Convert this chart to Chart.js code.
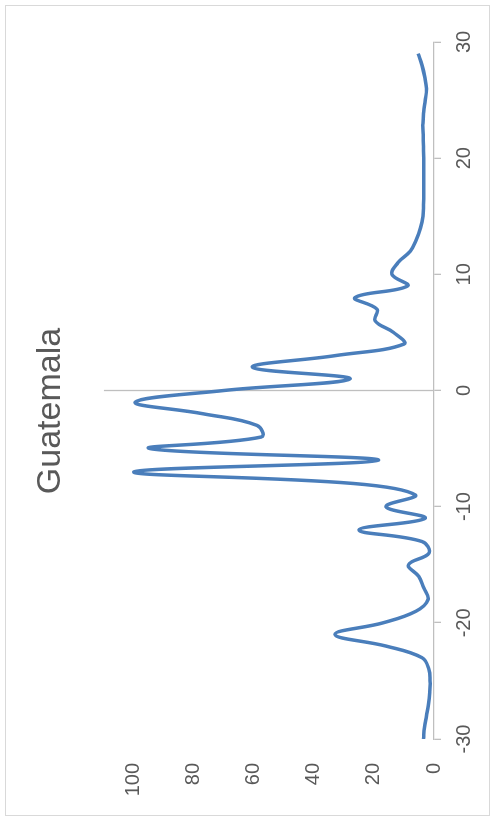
<!DOCTYPE html>
<html>
<head>
<meta charset="utf-8">
<script src="https://cdn.jsdelivr.net/npm/chart.js@4"></script>
<style>
  body { margin: 0; background: #fff; overflow: hidden; }
  /* the chart is drawn landscape and turned a quarter turn to the left */
  #wrap {
    position: absolute; left: 0; top: 0;
    width: 822px; height: 494px;
    transform-origin: 0 0;
    transform: translate(0px, 822px) rotate(-90deg);
  }
  #frame {
    position: absolute; left: 6px; top: 5px;
    width: 811px; height: 485px;
    box-sizing: border-box;
    border: 1px solid #D9D9D9;
    pointer-events: none;
  }
  canvas { position: absolute; left: 0; top: 0; }
</style>
</head>
<body>
<div id="wrap">
  <canvas id="chart" width="822" height="494"></canvas>
  <div id="frame"></div>
</div>
<script>
// x positions and values
const xValues = [-30, -29, -28, -27, -26, -25, -24, -23, -22, -21,
                 -20, -19, -18, -17, -16, -15, -14, -13, -12, -11,
                 -10, -9, -8, -7, -6, -5, -4, -3, -2, -1,
                 0, 1, 2, 3, 4, 5, 6, 7, 8, 9,
                 10, 11, 12, 13, 14, 15, 16, 17, 18, 19,
                 20, 21, 22, 23, 24, 25, 26, 27, 28, 29];
const yValues = [3.5, 3.2, 2.5, 1.8, 1.4, 1.3, 1.7, 4, 16, 33,
                 17, 6, 2, 3.4, 5.1, 8.5, 1.7, 4, 25, 3,
                 16, 6.2, 27, 100, 18.5, 94.6, 57.5, 59, 77, 99.5,
                 70, 28, 60.5, 33, 10, 13.5, 19.6, 19, 26.3, 8.8,
                 14, 12, 7.9, 5.9, 4.5, 3.7, 3.5, 3.4, 3.4, 3.4,
                 3.4, 3.5, 3.6, 3.7, 3.4, 2.9, 2.5, 3.1, 4, 5.3];

// axis ranges and ticks
const xTicks = [-30, 30, 10];     // min, max, step
const yTicks = [0, 110, 20];
const zeroLine = [[0, 0], [0, 110]];

const font = "'Liberation Sans', Arial, sans-serif";
const grey = '#BFBFBF';
const textGrey = '#595959';

const points = xValues.map((x, i) => ({ x: x, y: yValues[i] }));

const ctx = document.getElementById('chart').getContext('2d');
new Chart(ctx, {
    type: 'scatter',
    data: {
        datasets: [{
            data: points,
            showLine: true,
            borderColor: '#4A7EBB',
            borderWidth: 3.5,
            pointRadius: 0,
            tension: 0.4,
            fill: false
        }, {
            // vertical axis crossing at x = 0
            data: zeroLine.map(p => ({ x: p[0], y: p[1] })),
            showLine: true,
            borderColor: grey,
            borderWidth: 1.3,
            pointRadius: 0,
            tension: 0
        }]
    },
    options: {
        responsive: false,
        animation: false,
        layout: { padding: { top: 5, left: 0, right: 0, bottom: 7 } },
        plugins: {
            legend: { display: false },
            tooltip: { enabled: false },
            title: {
                display: true,
                text: 'Guatemala',
                color: textGrey,
                font: { family: font, size: 34, weight: 'normal' },
                padding: { top: 25, bottom: 33 }
            }
        },
        scales: {
            x: {
                type: 'linear',
                min: xTicks[0],
                max: xTicks[1],
                ticks: {
                    stepSize: xTicks[2],
                    color: textGrey,
                    padding: 11,
                    maxRotation: 0,
                    font: { family: font, size: 20 }
                },
                grid: {
                    display: true,
                    drawOnChartArea: false,
                    drawTicks: true,
                    tickLength: 7,
                    color: grey,
                    lineWidth: 1.3
                },
                border: { display: true, color: grey, width: 1.3 }
            },
            y: {
                min: yTicks[0],
                max: yTicks[1],
                afterFit: scale => { scale.width = 83; },
                ticks: {
                    stepSize: yTicks[2],
                    includeBounds: false,
                    color: textGrey,
                    padding: 24,
                    font: { family: font, size: 20 }
                },
                grid: { display: false, drawTicks: false },
                border: { display: false }
            },
            // empty right-hand axis, only keeps the right margin
            yRight: {
                position: 'right',
                min: yTicks[0],
                max: yTicks[1],
                afterFit: scale => { scale.width = 42; },
                ticks: { display: false },
                grid: { display: false, drawTicks: false },
                border: { display: false }
            }
        }
    }
});
</script>
</body>
</html>
